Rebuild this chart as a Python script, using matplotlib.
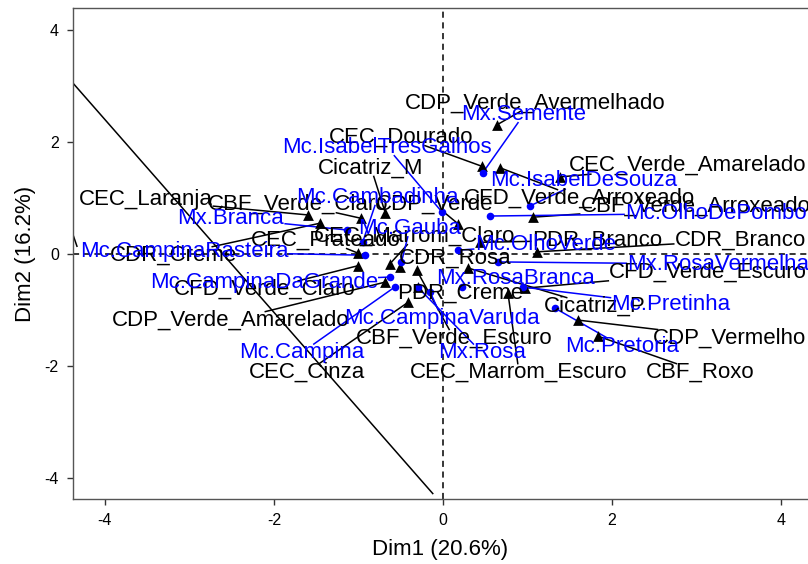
import numpy as np
import matplotlib
matplotlib.use("Agg")
import matplotlib.pyplot as plt

plt.rcParams['font.family'] = ['Liberation Sans', 'DejaVu Sans']
plt.rcParams['axes.unicode_minus'] = False

# column points (black triangles): name, point, label position
col_names = ["CDP_Verde_Avermelhado", "CEC_Dourado", "Cicatriz_M", "CEC_Verde_Amarelado",
             "CEC_Laranja", "CBF_Verde_Claro", "CDP_Verde", "CFD_Verde_Arroxeado",
             "CBF_Verde_Arroxeado", "CEC_Prateado", "CEC_Marrom_Claro", "PDR_Branco",
             "CDR_Branco", "CDR_Creme", "CDR_Rosa", "CFD_Verde_Escuro", "CFD_Verde_Claro",
             "PDR_Creme", "Cicatriz_P", "CDP_Verde_Amarelado", "CDP_Vermelho",
             "CBF_Verde_Escuro", "CEC_Cinza", "CEC_Marrom_Escuro", "CBF_Roxo"]
col_x = [0.64, 0.46, -0.68, 1.39, -1.60, -0.97, 0.18, 0.68, 1.07, -1.01, -0.63, 0.44,
         1.11, -1.46, -0.51, 0.97, -1.01, -0.30, 0.30, -0.68, 1.60, -0.31, -0.41, 0.77, 1.84]
col_y = [2.31, 1.57, 0.73, 1.38, 0.70, 0.64, 0.54, 1.54, 0.66, 0.02, -0.18, 0.21,
         0.04, 0.55, -0.23, -0.61, -0.21, -0.59, -0.25, -0.50, -1.18, -0.29, -0.86, -0.70, -1.47]
col_lab_x = [1.09, -0.49, -0.85, 2.89, -3.52, -1.71, -0.10, 1.62, 2.99, -1.39, -0.33, 1.82,
             3.52, -3.19, 0.15, 3.14, -2.11, 0.20, 1.80, -2.51, 3.39, 0.13, -1.61, 0.90, 3.05]
col_lab_y = [2.70, 2.09, 1.54, 1.58, 0.97, 0.89, 0.89, 1.00, 0.86, 0.25, 0.32, 0.25,
             0.25, -0.02, -0.07, -0.32, -0.63, -0.70, -0.93, -1.18, -1.50, -1.50, -2.11, -2.11, -2.11]

# row points (blue dots)
row_names = ["Mx.Semente", "Mc.IsabelTresGalhos", "Mc.IsabelDeSouza", "Mc.Cambadinha",
             "Mx.Branca", "Mc.Gauba", "Mc.OlhoDePombo", "Mc.OlhoVerde", "Mc.CampinaRasteira",
             "Mx.RosaVermelha", "Mx.RosaBranca", "Mc.CampinaDaGrande", "Mc.Pretinha",
             "Mc.CampinaVaruda", "Mc.Campina", "Mx.Rosa", "Mc.Pretoria"]
row_x = [0.47, -0.01, 1.03, -0.95, -1.13, -0.49, 0.56, 0.18, -0.92, 0.65, 0.23, -0.62,
         0.95, -0.15, -0.57, -0.30, 1.33]
row_y = [1.45, 0.75, 0.86, 0.21, 0.43, -0.14, 0.68, 0.07, -0.02, -0.14, -0.59, -0.41,
         -0.59, -0.68, -0.59, -0.59, -0.97]
row_lab_x = [0.96, -0.66, 1.66, -0.77, -2.51, -0.39, 3.23, 1.21, -3.06, 3.26, 0.86, -2.12,
             2.70, -0.01, -1.67, 0.46, 2.12]
row_lab_y = [2.50, 1.91, 1.31, 1.02, 0.64, 0.46, 0.73, 0.18, 0.04, -0.18, -0.43, -0.50,
             -0.91, -1.15, -1.76, -1.76, -1.65]

# connector lines that run off the panel
stray_x = [[-4.60, -0.12], [-4.40, -4.33]]
stray_y = [[3.44, -4.28], [0.45, 0.14]]

xlim = (-4.38, 4.32)
ylim = (-4.38, 4.40)
blue = "#0000FF"

fig = plt.figure(figsize=(8.08, 5.64), dpi=100)
ax = fig.add_axes([0.090, 0.115, 0.910, 0.871])
ax.set_xlim(xlim)
ax.set_ylim(ylim)

ax.axhline(0, color="black", linestyle=(0, (4, 3)), linewidth=1.1, zorder=1)
ax.axvline(0, color="black", linestyle=(0, (4, 3)), linewidth=1.1, zorder=1)

for sx, sy in zip(stray_x, stray_y):
    ax.plot(sx, sy, color="black", linewidth=1.1, zorder=2)

ax.scatter(col_x, col_y, marker="^", s=60, color="black", zorder=4, linewidths=0)
ax.scatter(row_x, row_y, marker="o", s=30, color=blue, zorder=4, linewidths=0)

texts = []
for name, lx, ly in zip(col_names, col_lab_x, col_lab_y):
    texts.append(ax.text(lx, ly, name, fontsize=16, color="black",
                         ha="center", va="center", zorder=5, clip_on=False))
for name, lx, ly in zip(row_names, row_lab_x, row_lab_y):
    texts.append(ax.text(lx, ly, name, fontsize=16, color=blue,
                         ha="center", va="center", zorder=5, clip_on=False))

# repel-style segments: from point to the edge of its label box
fig.canvas.draw()
renderer = fig.canvas.get_renderer()
pts = list(zip(col_x, col_y)) + list(zip(row_x, row_y))
colors = ["black"] * len(col_x) + [blue] * len(row_x)
inv = ax.transData.inverted()
for t, (px, py), c in zip(texts, pts, colors):
    bb = t.get_window_extent(renderer)
    x0, y0, x1, y1 = bb.x0 - 1, bb.y0 + 2, bb.x1 + 1, bb.y1 - 2
    p = ax.transData.transform((px, py))
    cx, cy = (x0 + x1) / 2, (y0 + y1) / 2
    if x0 <= p[0] <= x1 and y0 <= p[1] <= y1:
        continue
    dx, dy = cx - p[0], cy - p[1]
    ts = []
    if dx != 0:
        ts += [(x0 - p[0]) / dx, (x1 - p[0]) / dx]
    if dy != 0:
        ts += [(y0 - p[1]) / dy, (y1 - p[1]) / dy]
    best = None
    for tt in ts:
        if 0 <= tt <= 1:
            qx, qy = p[0] + tt * dx, p[1] + tt * dy
            if x0 - 0.5 <= qx <= x1 + 0.5 and y0 - 0.5 <= qy <= y1 + 0.5:
                if best is None or tt < best:
                    best = tt
    if best is None:
        continue
    ex, ey = p[0] + best * dx, p[1] + best * dy
    if np.hypot(ex - p[0], ey - p[1]) < 6:
        continue
    e = inv.transform((ex, ey))
    ax.plot([px, e[0]], [py, e[1]], color=c, linewidth=1.1, zorder=3)

ax.spines["right"].set_visible(False)
for side in ["left", "bottom", "top"]:
    ax.spines[side].set_color("#555555")
    ax.spines[side].set_linewidth(1.0)

ax.set_xticks([-4, -2, 0, 2, 4])
ax.set_yticks([-4, -2, 0, 2, 4])
ax.tick_params(direction="out", length=4, width=1, color="#333333",
               labelsize=11.5, labelcolor="black", pad=6)
ax.set_xlabel("Dim1 (20.6%)", fontsize=16, labelpad=8)
ax.set_ylabel("Dim2 (16.2%)", fontsize=16, labelpad=6)

fig.savefig("out.png", dpi=100)
